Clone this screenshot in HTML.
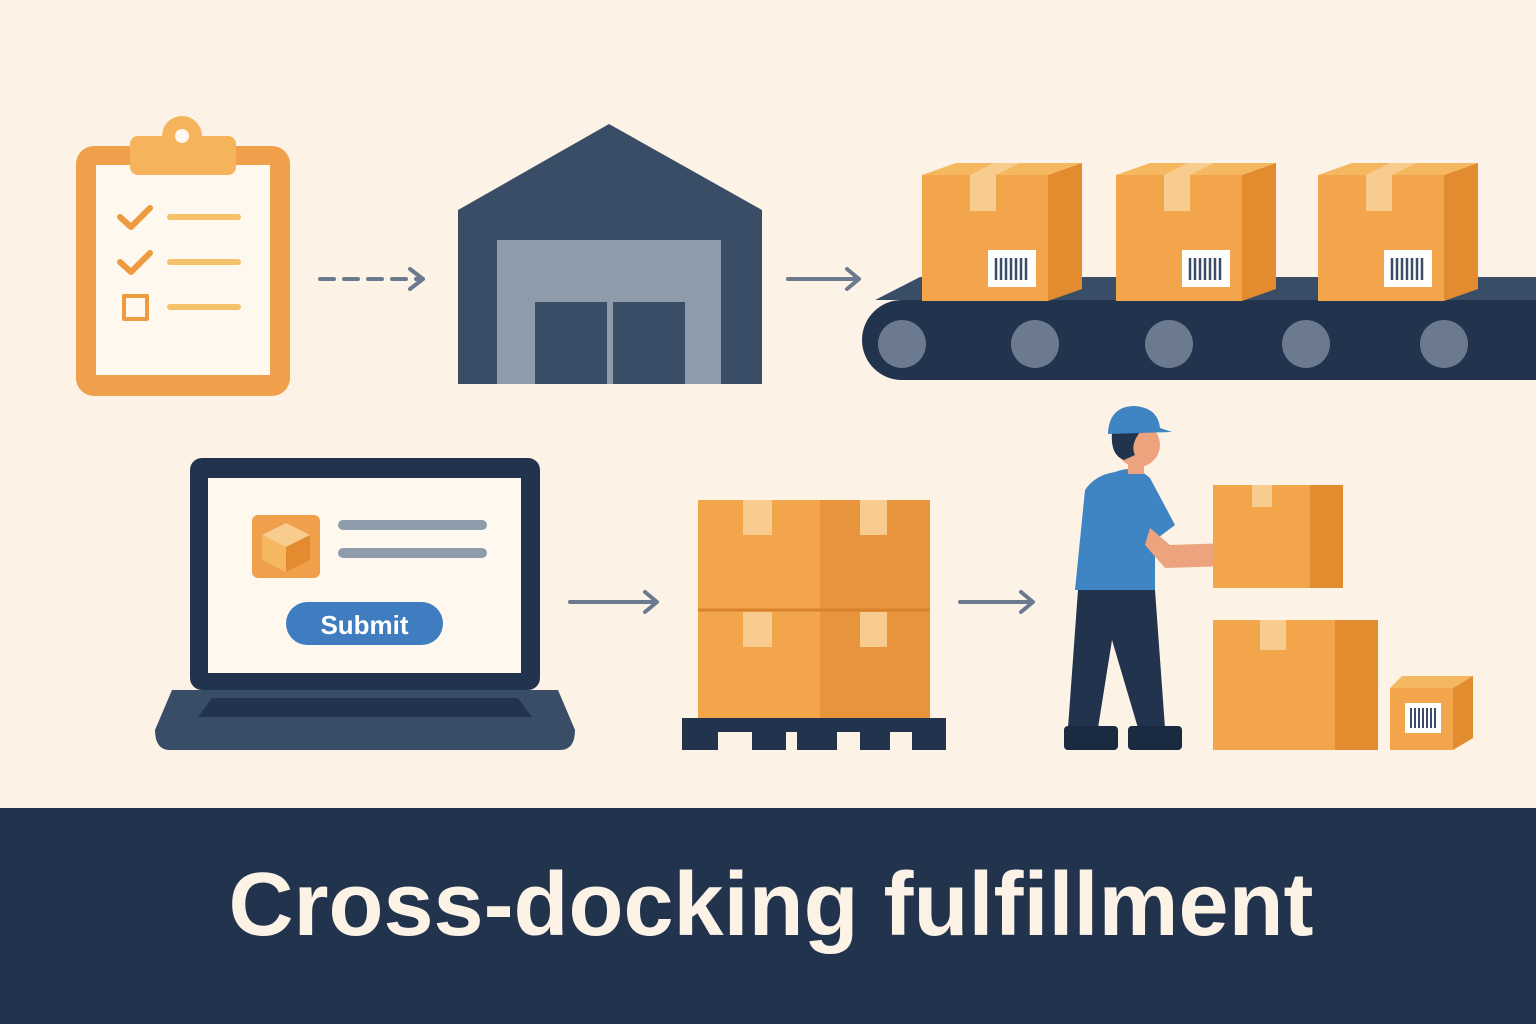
<!DOCTYPE html>
<html><head><meta charset="utf-8"><style>
html,body{margin:0;padding:0;background:#FCF3E6}
svg{display:block}
</style></head><body>
<svg width="1536" height="1024" viewBox="0 0 1536 1024" xmlns="http://www.w3.org/2000/svg">
<rect width="1536" height="1024" fill="#FCF3E6"/>
<!-- clipboard -->
<rect x="76" y="146" width="214" height="250" rx="18" fill="#F0A04B"/>
<rect x="96" y="165" width="174" height="210" fill="#FEF8EE"/>
<rect x="130" y="136" width="106" height="39" rx="8" fill="#F5B45C"/>
<circle cx="182" cy="136" r="20" fill="#F5B45C"/>
<circle cx="182" cy="136" r="7" fill="#FEF8EE"/>
<g fill="none" stroke="#EE9A3F" stroke-width="6" stroke-linecap="round" stroke-linejoin="round">
<path d="M120 217 L131 227 L150 208"/><path d="M120 262 L131 272 L150 253"/>
<rect x="124" y="296" width="23" height="23" stroke-width="4"/>
</g>
<g stroke="#F5C26B" stroke-width="6" stroke-linecap="round">
<line x1="170" y1="217" x2="238" y2="217"/><line x1="170" y1="262" x2="238" y2="262"/><line x1="170" y1="307" x2="238" y2="307"/>
</g>
<!-- arrows -->
<g stroke="#6B7A8F" stroke-width="4" fill="none" stroke-linecap="round" stroke-linejoin="round">
<line x1="320" y1="279" x2="420" y2="279" stroke-dasharray="14,10"/><path d="M410 269 L423 279 L410 289"/>
<line x1="788" y1="279" x2="857" y2="279"/><path d="M847 269 L859 279 L847 289"/>
<line x1="570" y1="602" x2="655" y2="602"/><path d="M645 592 L657 602 L645 612"/>
<line x1="960" y1="602" x2="1031" y2="602"/><path d="M1021 592 L1033 602 L1021 612"/>
</g>
<!-- warehouse -->
<polygon points="458,210 609,124 762,210 762,384 458,384" fill="#3A4D66"/>
<rect x="497" y="240" width="224" height="144" fill="#8D9BAB"/>
<rect x="535" y="302" width="72" height="82" fill="#3A4D66"/>
<rect x="613" y="302" width="72" height="82" fill="#3A4D66"/>
<!-- conveyor -->
<polygon points="875,300 920,277 1536,277 1536,300" fill="#3A4D66"/>
<rect x="862" y="300" width="720" height="80" rx="40" fill="#22334D"/>
<g fill="#6B7A8F"><circle cx="902" cy="344" r="24"/><circle cx="1035" cy="344" r="24"/><circle cx="1169" cy="344" r="24"/><circle cx="1306" cy="344" r="24"/><circle cx="1444" cy="344" r="24"/></g>
<g id="cb">
<polygon points="922,175 956,163 1082,163 1048,175" fill="#F5B860"/>
<rect x="922" y="175" width="126" height="126" fill="#F2A54A"/>
<polygon points="1048,175 1082,163 1082,289 1048,301" fill="#E38B2F"/>
<polygon points="970,175 996,175 1020,163 994,163" fill="#F8CC8E"/>
<rect x="970" y="175" width="26" height="36" fill="#F8CC8E"/>
<rect x="988" y="250" width="48" height="37" fill="#fff"/>
<g stroke="#3A4D66" stroke-width="2.5"><line x1="996" y1="258" x2="996" y2="280"/><line x1="1001" y1="258" x2="1001" y2="280"/><line x1="1006" y1="258" x2="1006" y2="280"/><line x1="1011" y1="258" x2="1011" y2="280"/><line x1="1016" y1="258" x2="1016" y2="280"/><line x1="1021" y1="258" x2="1021" y2="280"/><line x1="1026" y1="258" x2="1026" y2="280"/></g>
</g>
<use href="#cb" x="194"/>
<use href="#cb" x="396"/>
<!-- laptop -->
<rect x="190" y="458" width="350" height="232" rx="12" fill="#22334D"/>
<rect x="208" y="478" width="313" height="195" fill="#FEF8EE"/>
<path d="M172 690 H558 L575 730 Q575 750 560 750 H170 Q155 750 155 730 Z" fill="#3A4D66"/>
<polygon points="212,698 518,698 532,717 198,717" fill="#22334D"/>
<rect x="252" y="515" width="68" height="63" rx="6" fill="#F0A04B"/>
<polygon points="286,523 310,535 286,547 262,535" fill="#F8CC8E"/>
<polygon points="262,535 286,547 286,572 262,560" fill="#F5B860"/>
<polygon points="310,535 286,547 286,572 310,560" fill="#E38B2F"/>
<g stroke="#8D9BAB" stroke-width="10" stroke-linecap="round"><line x1="343" y1="525" x2="482" y2="525"/><line x1="343" y1="553" x2="482" y2="553"/></g>
<rect x="286" y="602" width="157" height="43" rx="21.5" fill="#3F7CC0"/>
<text x="364.5" y="634" text-anchor="middle" font-family="Liberation Sans, sans-serif" font-weight="bold" font-size="26" fill="#fff">Submit</text>
<!-- pallet -->
<rect x="698" y="500" width="122" height="110" fill="#F2A54A"/>
<rect x="820" y="500" width="110" height="110" fill="#E8943C"/>
<rect x="698" y="610" width="122" height="108" fill="#F2A54A"/>
<rect x="820" y="610" width="110" height="108" fill="#E8943C"/>
<line x1="698" y1="610" x2="930" y2="610" stroke="#D9822E" stroke-width="3"/>
<g fill="#F8CC8E"><rect x="743" y="500" width="29" height="35"/><rect x="860" y="500" width="27" height="35"/><rect x="743" y="612" width="29" height="35"/><rect x="860" y="612" width="27" height="35"/></g>
<rect x="682" y="718" width="264" height="14" fill="#22334D"/>
<g fill="#22334D"><rect x="682" y="718" width="36" height="32"/><rect x="752" y="718" width="34" height="32"/><rect x="797" y="718" width="40" height="32"/><rect x="860" y="718" width="30" height="32"/><rect x="912" y="718" width="34" height="32"/></g>
<!-- worker -->
<polygon points="1078,590 1155,590 1165,728 1138,728 1112,640 1098,728 1068,728" fill="#22334D"/>
<rect x="1064" y="726" width="54" height="24" rx="4" fill="#1A2A40"/>
<rect x="1128" y="726" width="54" height="24" rx="4" fill="#1A2A40"/>
<path d="M1115 472 Q1135 464 1150 478 L1175 525 L1155 540 L1155 590 L1075 590 L1085 490 Q1095 475 1115 472 Z" fill="#3F84C3"/>
<path d="M1150 528 L1170 545 L1230 543 Q1240 555 1230 566 L1165 568 L1145 545 Z" fill="#EDA47E"/>
<circle cx="1138" cy="445" r="22" fill="#EDA47E"/>
<rect x="1128" y="458" width="16" height="16" fill="#EDA47E"/>
<path d="M1112 432 L1140 432 Q1130 445 1135 455 L1124 460 Q1110 455 1112 432 Z" fill="#22334D"/>
<path d="M1108 432 Q1110 406 1135 406 Q1158 408 1160 428 L1172 432 L1108 434 Z" fill="#3F84C3"/>
<!-- worker boxes -->
<rect x="1213" y="485" width="97" height="103" fill="#F2A54A"/>
<rect x="1310" y="485" width="33" height="103" fill="#E38B2F"/>
<rect x="1252" y="485" width="20" height="22" fill="#F8CC8E"/>
<rect x="1213" y="620" width="122" height="130" fill="#F2A54A"/>
<rect x="1335" y="620" width="43" height="130" fill="#E38B2F"/>
<rect x="1260" y="620" width="26" height="30" fill="#F8CC8E"/>
<polygon points="1390,688 1402,676 1473,676 1453,688" fill="#F5B860"/>
<rect x="1390" y="688" width="63" height="62" fill="#F2A54A"/>
<polygon points="1453,688 1473,676 1473,738 1453,750" fill="#E38B2F"/>
<rect x="1405" y="703" width="36" height="30" fill="#fff"/>
<g stroke="#3A4D66" stroke-width="2"><line x1="1411" y1="708" x2="1411" y2="728"/><line x1="1415" y1="708" x2="1415" y2="728"/><line x1="1419" y1="708" x2="1419" y2="728"/><line x1="1423" y1="708" x2="1423" y2="728"/><line x1="1427" y1="708" x2="1427" y2="728"/><line x1="1431" y1="708" x2="1431" y2="728"/><line x1="1435" y1="708" x2="1435" y2="728"/></g>
<!-- banner -->
<rect x="0" y="808" width="1536" height="216" fill="#22334D"/>
<text x="771" y="935" text-anchor="middle" font-family="Liberation Sans, sans-serif" font-weight="bold" font-size="90" fill="#FCF3E6">Cross-docking fulfillment</text>
</svg>
</body></html>
